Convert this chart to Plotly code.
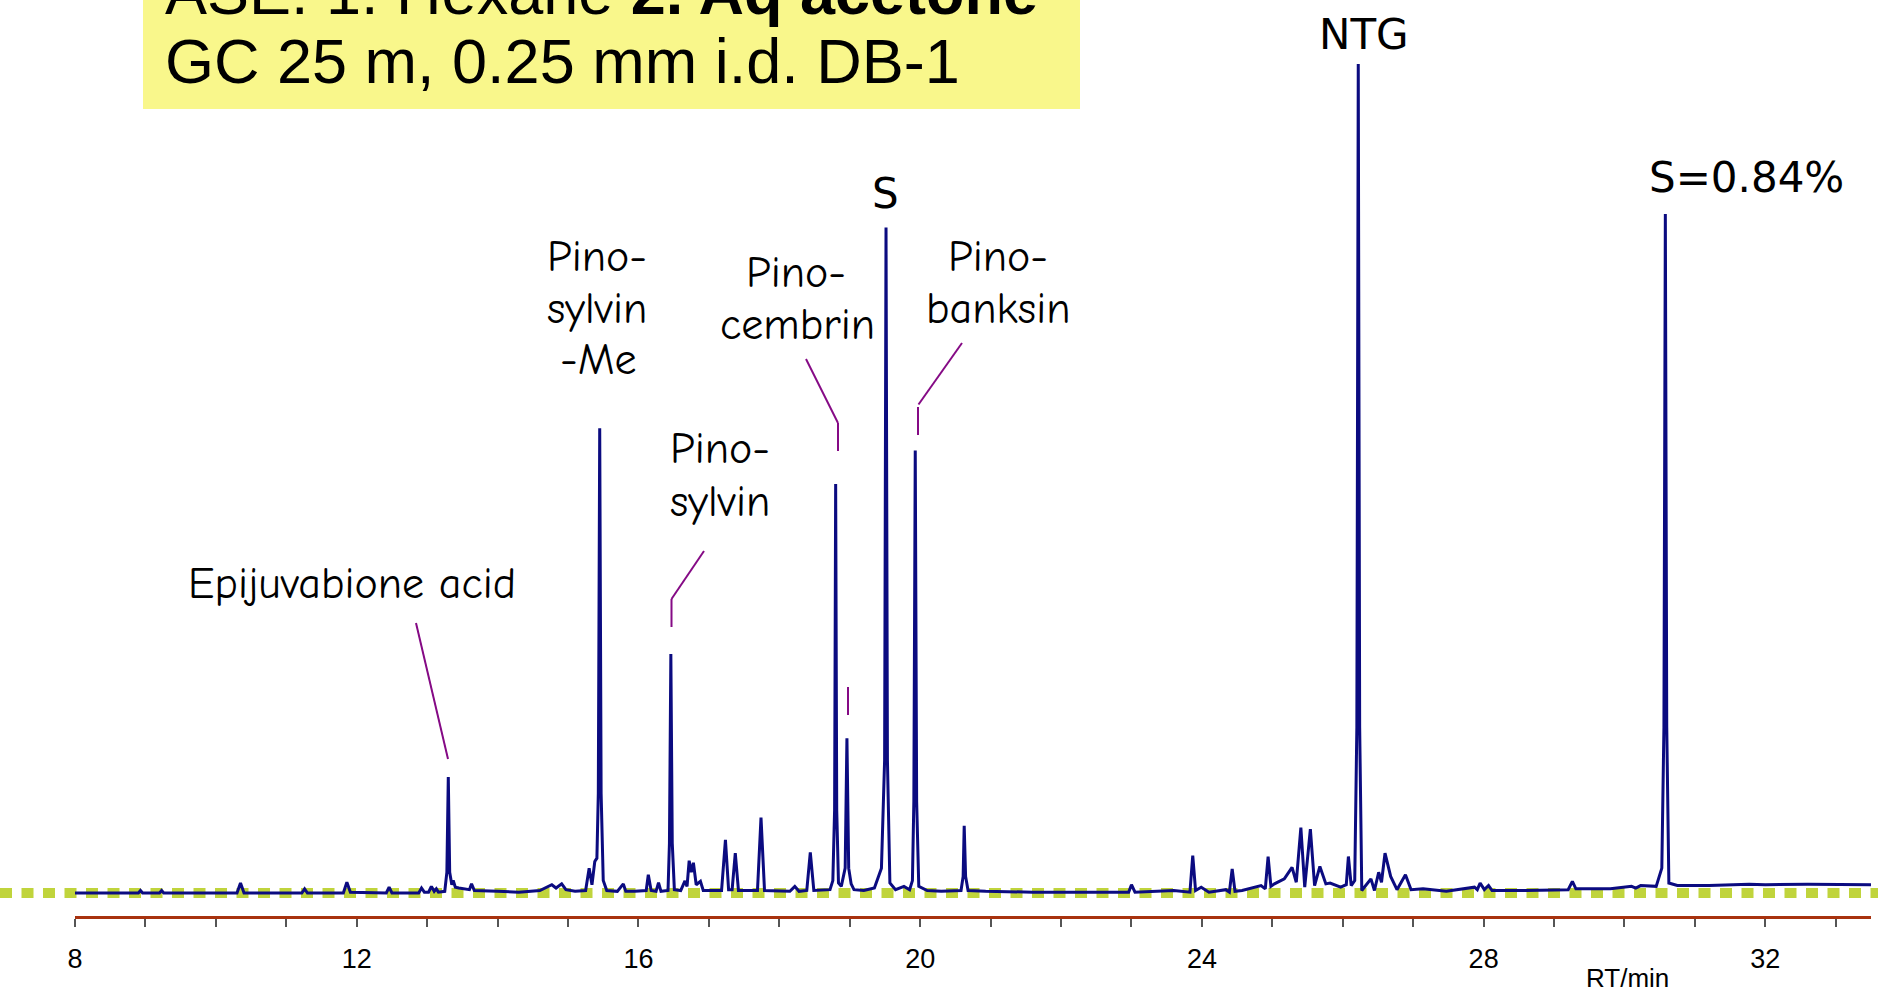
import plotly.graph_objects as go

# ---------------- data ----------------
# chromatogram vertices: retention time (min) and detector signal (NTG peak = 100)
rt_min = [
    8.00, 8.90, 8.93, 8.96, 9.20, 9.23, 9.26, 10.30, 10.35, 10.40,
    11.22, 11.26, 11.30, 11.81, 11.86, 11.91, 12.42, 12.46, 12.50, 12.88,
    12.92, 12.96, 13.02, 13.06, 13.10, 13.13, 13.16, 13.25, 13.28, 13.30,
    13.32, 13.35, 13.37, 13.40, 13.45, 13.55, 13.60, 13.63, 13.67, 14.00,
    14.30, 14.60, 14.77, 14.83, 14.91, 14.97, 15.10, 15.25, 15.30, 15.34,
    15.38, 15.41, 15.43, 15.45, 15.47, 15.50, 15.55, 15.70, 15.785, 15.82,
    15.95, 16.11, 16.14, 16.18, 16.25, 16.285, 16.32, 16.42, 16.44, 16.46,
    16.48, 16.51, 16.60, 16.66, 16.69, 16.72, 16.75, 16.78, 16.82, 16.88,
    16.92, 17.18, 17.235, 17.28, 17.33, 17.375, 17.42, 17.69, 17.74, 17.79,
    18.15, 18.22, 18.28, 18.39, 18.44, 18.49, 18.72, 18.76, 18.785, 18.80,
    18.815, 18.84, 18.88, 18.935, 18.96, 18.985, 19.02, 19.06, 19.20, 19.35,
    19.41, 19.45, 19.495, 19.515, 19.535, 19.57, 19.65, 19.77, 19.85, 19.89,
    19.91, 19.93, 19.95, 19.98, 20.10, 20.30, 20.58, 20.61, 20.625, 20.645,
    20.68, 20.93, 21.60, 22.70, 22.96, 23.00, 23.05, 23.60, 23.83, 23.87,
    23.91, 23.99, 24.10, 24.34, 24.39, 24.43, 24.47, 24.57, 24.84, 24.90,
    24.94, 24.98, 25.03, 25.17, 25.28, 25.34, 25.405, 25.46, 25.54, 25.60,
    25.675, 25.76, 25.82, 25.97, 26.05, 26.08, 26.12, 26.17, 26.20, 26.22,
    26.24, 26.27, 26.40, 26.45, 26.51, 26.55, 26.60, 26.68, 26.77, 26.89,
    26.97, 27.14, 27.47, 27.87, 27.91, 27.95, 28.01, 28.07, 28.12, 28.60,
    29.20, 29.26, 29.31, 29.80, 30.10, 30.16, 30.23, 30.45, 30.53, 30.56,
    30.58, 30.60, 30.63, 30.75, 31.20, 31.77, 32.00, 32.60, 33.00, 33.50,
]
signal = [
    0.0, 0.0, 0.3, 0.0, 0.0, 0.3, 0.0, 0.0, 1.2, 0.0,
    0.0, 0.5, 0.0, 0.0, 1.3, 0.1, 0.0, 0.7, 0.0, 0.0,
    0.6, 0.1, 0.1, 0.8, 0.2, 0.5, 0.1, 0.2, 2.5, 14.0,
    2.5, 1.0, 1.5, 0.7, 0.6, 0.5, 0.4, 1.1, 0.3, 0.2,
    0.1, 0.3, 1.0, 0.6, 1.1, 0.4, 0.2, 0.3, 3.0, 1.0,
    3.8, 4.2, 12.0, 56.05, 12.0, 1.5, 0.3, 0.2, 1.1, 0.2,
    0.2, 0.3, 2.2, 0.3, 0.2, 1.25, 0.2, 0.3, 6.0, 28.83,
    6.0, 0.4, 0.3, 1.45, 0.8, 3.9, 2.5, 3.65, 1.0, 1.4,
    0.3, 0.3, 6.4, 0.4, 0.4, 4.8, 0.3, 0.3, 9.1, 0.3,
    0.2, 0.8, 0.2, 0.3, 4.9, 0.3, 0.4, 1.5, 10.0, 49.34,
    10.0, 1.2, 0.8, 3.0, 18.67, 3.0, 1.1, 0.4, 0.3, 0.6,
    2.0, 3.0, 16.0, 80.28, 16.0, 1.2, 0.4, 0.8, 0.4, 1.5,
    11.0, 53.39, 11.0, 0.8, 0.3, 0.2, 0.3, 2.0, 8.1, 2.0,
    0.3, 0.2, 0.1, 0.1, 0.1, 1.0, 0.1, 0.3, 0.1, 4.5,
    0.3, 0.7, 0.1, 0.4, 0.1, 2.9, 0.2, 0.3, 0.9, 0.5,
    4.4, 0.8, 1.1, 1.7, 3.1, 1.3, 7.9, 0.7, 7.7, 0.9,
    3.2, 1.1, 1.2, 0.7, 1.0, 4.4, 0.9, 1.5, 20.0, 100.0,
    20.0, 0.3, 1.7, 0.3, 2.5, 1.3, 4.8, 2.0, 0.4, 2.2,
    0.4, 0.5, 0.2, 0.7, 0.4, 1.2, 0.4, 0.9, 0.3, 0.3,
    0.4, 1.4, 0.5, 0.5, 0.8, 0.6, 0.9, 0.8, 3.0, 20.0,
    81.9, 20.0, 1.2, 0.9, 0.9, 1.05, 1.0, 1.05, 1.0, 1.0,
]

tick_vals = list(range(8, 34))
tick_text = [str(v) if v % 4 == 0 else "" for v in tick_vals]

title_line1 = "ASE: 1. Hexane <b>2. Aq acetone</b>"
title_line2 = "GC 25 m, 0.25 mm i.d. DB-1"
axis_title = "RT/min"

# peak labels: text line, centre x (px), baseline y (px), font
label_lines = ["Epijuvabione acid", "Pino-", "sylvin", "-Me", "Pino-", "sylvin",
               "Pino-", "cembrin", "S", "Pino-", "banksin", "NTG", "S=0.84%"]
label_x_px = [352, 597, 597, 598, 720, 720, 796, 797, 885, 998, 998, 1364, 1746]
label_base_px = [598, 270, 322, 373, 462, 515, 286, 338, 207, 270, 322, 48, 192]
label_wide = [False, False, False, False, False, False,
              False, False, True, False, False, True, True]

# ---------------- layout helpers ----------------
W_FIG, H_FIG = 1878, 992
L, R, T, B = 75, 1871, 0, 916
PW, PH = R - L, B - T


def px(x):
    return (x - L) / PW


def py(y):
    return (B - y) / PH


Y_PER_UNIT = 8.29
BASE_Y = 893
y_lo = -(B - BASE_Y) / Y_PER_UNIT
y_hi = BASE_Y / Y_PER_UNIT

fig = go.Figure()
fig.add_trace(go.Scatter(
    x=rt_min, y=signal, mode="lines",
    line=dict(color="#0b0b80", width=3),
    hoverinfo="skip", showlegend=False,
))

shapes = []
# yellow title box
shapes.append(dict(type="rect", xref="paper", yref="paper",
                   x0=px(143), x1=px(1080), y0=py(109), y1=py(-10),
                   fillcolor="#f9f78b", line=dict(width=0), layer="below"))
# green dashed baseline marker
shapes.append(dict(type="line", xref="paper", yref="paper",
                   x0=px(0), x1=px(1878), y0=py(893), y1=py(893),
                   line=dict(color="#c0d43c", width=10, dash="12px,9.5px"),
                   layer="below"))
# purple connector lines
connectors = [
    [(416, 623), (448, 759)],
    [(704, 551), (671.5, 599), (671.5, 627)],
    [(806, 359), (838, 423), (838, 451)],
    [(848, 687), (848, 715)],
    [(962, 343), (918.5, 404.5)],
    [(918, 407), (918, 435)],
]
for pts in connectors:
    for (xa, ya), (xb, yb) in zip(pts[:-1], pts[1:]):
        shapes.append(dict(type="line", xref="paper", yref="paper",
                           x0=px(xa), y0=py(ya), x1=px(xb), y1=py(yb),
                           line=dict(color="#850a85", width=2)))

annotations = []
LAB_FONT = dict(family="Comic Neue, Comic Sans MS, Lato", size=44, color="#000000")
WIDE_FONT = dict(family="DejaVu Sans", size=42, color="#000000")
for txt, xc, yb, wide in zip(label_lines, label_x_px, label_base_px, label_wide):
    annotations.append(dict(
        text=txt, xref="paper", yref="paper", x=px(xc), y=py(yb - 14),
        xanchor="center", yanchor="middle", showarrow=False,
        font=WIDE_FONT if wide else LAB_FONT))

TITLE_FONT = dict(family="Liberation Sans, Arial", size=63, color="#000000")
annotations.append(dict(text=title_line1, xref="paper", yref="paper",
                        x=px(163), y=py(12 - 20), xanchor="left", yanchor="middle",
                        showarrow=False, font=TITLE_FONT))
annotations.append(dict(text=title_line2, xref="paper", yref="paper",
                        x=px(163), y=py(81 - 20), xanchor="left", yanchor="middle",
                        showarrow=False, font=TITLE_FONT))
annotations.append(dict(text=axis_title, xref="paper", yref="paper",
                        x=px(1627), y=py(978), xanchor="center", yanchor="middle",
                        showarrow=False,
                        font=dict(family="Liberation Sans, Arial", size=26, color="#000000")))

fig.update_layout(
    width=W_FIG, height=H_FIG,
    margin=dict(l=L, r=W_FIG - R, t=T, b=H_FIG - B, pad=0),
    paper_bgcolor="#ffffff", plot_bgcolor="rgba(0,0,0,0)",
    shapes=shapes, annotations=annotations, showlegend=False,
)
fig.update_xaxes(
    range=[8, 33.5], showgrid=False, zeroline=False,
    showline=True, linecolor="#a8320f", linewidth=2.5,
    ticks="outside", ticklen=8, tickwidth=1.5, tickcolor="#555555",
    tickvals=tick_vals, ticktext=tick_text, ticklabelstandoff=9,
    tickfont=dict(family="Liberation Sans, Arial", size=27, color="#000000"),
)
fig.update_yaxes(range=[y_lo, y_hi], visible=False, showgrid=False, zeroline=False)

fig.write_html("out.html", config={"displayModeBar": False},
               post_script="document.body.style.margin='0';")
